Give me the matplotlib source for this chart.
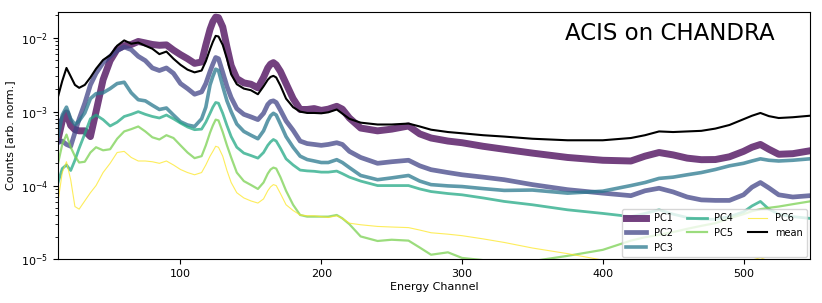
import numpy as np
import matplotlib
matplotlib.use('Agg')
import matplotlib.pyplot as plt

# Energy channels at which the spectra were read
channels = [13, 16, 19, 22, 25, 28, 32, 36, 40, 45, 50, 55, 60, 65, 70, 75, 80, 85, 90, 95,
            100, 105, 110,
            115, 118, 121, 123, 125, 127, 130, 133, 136, 140, 145, 150, 155, 159, 162, 164,
            166, 168, 171, 175,
            180, 185, 190, 195, 200, 205, 211, 215, 220, 228, 240, 250, 262, 270, 278, 290,
            300, 315, 330, 350, 375, 400, 420, 430, 440, 450, 460, 470, 480, 490, 500, 506,
            512, 518, 525, 535, 547]

mean_spec = [1.6e-3, 2.6e-3, 3.9e-3, 3.0e-3, 2.3e-3, 2.1e-3, 2.3e-3, 2.9e-3, 3.8e-3, 5.0e-3,
             5.8e-3, 7.8e-3, 9.2e-3, 8.3e-3, 8.6e-3, 7.8e-3, 7.1e-3, 6.0e-3, 6.5e-3, 5.2e-3,
             4.3e-3, 3.7e-3, 3.4e-3,
             3.6e-3, 4.8e-3, 7.0e-3, 8.8e-3, 1.06e-2, 1.04e-2, 8.0e-3, 5.2e-3, 3.2e-3, 2.35e-3,
             2.05e-3, 1.95e-3, 1.72e-3, 2.2e-3, 2.7e-3, 2.95e-3, 3.05e-3, 2.9e-3, 2.25e-3, 1.5e-3,
             1.15e-3, 1.0e-3, 9.6e-4, 9.6e-4, 9.5e-4, 9.8e-4, 1.07e-3, 9.4e-4, 8.0e-4, 7.1e-4,
             6.7e-4, 6.7e-4, 6.9e-4, 6.3e-4, 5.7e-4, 5.3e-4, 5.1e-4, 4.8e-4, 4.6e-4, 4.3e-4,
             4.1e-4, 4.1e-4, 4.4e-4, 4.8e-4, 5.4e-4, 5.3e-4, 5.4e-4, 5.5e-4, 5.9e-4, 6.6e-4,
             7.9e-4, 8.8e-4, 9.6e-4, 8.7e-4, 8.2e-4, 8.4e-4, 8.8e-4]

pc1 = [4.2e-4, 7.5e-4, 9.6e-4, 6.5e-4, 5.7e-4, 5.5e-4, 5.5e-4, 4.6e-4, 1.0e-3, 2.7e-3,
       4.9e-3, 7.0e-3, 7.8e-3, 8.1e-3, 8.9e-3, 8.5e-3, 8.1e-3, 7.9e-3, 8.0e-3, 6.8e-3,
       5.9e-3, 5.2e-3, 4.5e-3,
       4.7e-3, 8.0e-3, 1.3e-2, 1.65e-2, 1.9e-2, 1.87e-2, 1.4e-2, 7.5e-3, 4.2e-3, 2.8e-3,
       2.45e-3, 2.35e-3, 2.1e-3, 2.9e-3, 3.9e-3, 4.4e-3, 4.6e-3, 4.3e-3, 3.5e-3, 2.4e-3,
       1.5e-3, 1.07e-3, 1.07e-3, 1.1e-3, 1.04e-3, 1.08e-3, 1.18e-3, 1.08e-3, 8.2e-4, 6.0e-4,
       5.5e-4, 5.8e-4, 6.4e-4, 5.0e-4, 4.4e-4, 4.0e-4, 3.8e-4, 3.4e-4, 3.1e-4, 2.75e-4,
       2.4e-4, 2.2e-4, 2.15e-4, 2.5e-4, 2.8e-4, 2.6e-4, 2.35e-4, 2.24e-4, 2.25e-4, 2.45e-4,
       2.9e-4, 3.3e-4, 3.6e-4, 3.1e-4, 2.65e-4, 2.7e-4, 2.95e-4]

pc2 = [3.8e-4, 4.0e-4, 3.6e-4, 3.4e-4, 5.2e-4, 8.0e-4, 1.3e-3, 2.3e-3, 3.3e-3, 4.6e-3,
       5.6e-3, 6.7e-3, 7.5e-3, 6.9e-3, 5.6e-3, 4.9e-3, 3.9e-3, 3.6e-3, 3.9e-3, 3.3e-3,
       2.4e-3, 2.05e-3, 1.72e-3,
       1.85e-3, 2.4e-3, 3.5e-3, 4.4e-3, 5.4e-3, 5.2e-3, 3.4e-3, 2.2e-3, 1.55e-3, 1.1e-3,
       9.2e-4, 8.5e-4, 7.8e-4, 9.5e-4, 1.25e-3, 1.37e-3, 1.4e-3, 1.33e-3, 1.05e-3, 7.5e-4,
       5.6e-4, 4.0e-4, 3.7e-4, 3.6e-4, 3.5e-4, 3.6e-4, 3.8e-4, 3.6e-4, 2.9e-4, 2.4e-4,
       2.0e-4, 2.1e-4, 2.2e-4, 1.85e-4, 1.64e-4, 1.5e-4, 1.4e-4, 1.3e-4, 1.2e-4, 1.03e-4,
       8.8e-5, 7.9e-5, 7.3e-5, 8.5e-5, 9.2e-5, 8.2e-5, 7.0e-5, 6.4e-5, 6.3e-5, 6.3e-5,
       7.5e-5, 9.5e-5, 1.1e-4, 9.3e-5, 7.5e-5, 7.0e-5, 7.3e-5]

pc3 = [4.6e-4, 9.0e-4, 1.15e-3, 8.0e-4, 6.7e-4, 7.5e-4, 9.6e-4, 1.5e-3, 1.75e-3, 1.8e-3,
       2.05e-3, 2.4e-3, 2.5e-3, 1.8e-3, 1.45e-3, 1.4e-3, 1.22e-3, 1.07e-3, 1.12e-3, 9.0e-4,
       7.3e-4, 6.6e-4, 6.3e-4,
       8.0e-4, 1.15e-3, 2.3e-3, 3.0e-3, 3.75e-3, 3.6e-3, 2.2e-3, 1.4e-3, 1.0e-3, 6.8e-4,
       5.4e-4, 4.8e-4, 4.3e-4, 5.5e-4, 7.5e-4, 8.8e-4, 9.5e-4, 9.0e-4, 6.8e-4, 4.6e-4,
       3.3e-4, 2.5e-4, 2.25e-4, 2.15e-4, 2.05e-4, 2.05e-4, 2.24e-4, 2.05e-4, 1.75e-4, 1.37e-4,
       1.2e-4, 1.27e-4, 1.37e-4, 1.15e-4, 1.03e-4, 9.9e-5, 9.7e-5, 9.1e-5, 8.6e-5, 8.7e-5,
       7.9e-5, 8.4e-5, 1.0e-4, 1.1e-4, 1.25e-4, 1.3e-4, 1.4e-4, 1.5e-4, 1.65e-4, 1.85e-4,
       2.0e-4, 2.15e-4, 2.3e-4, 2.2e-4, 2.15e-4, 2.2e-4, 2.3e-4]

pc4 = [1.1e-4, 1.7e-4, 1.9e-4, 1.6e-4, 2.2e-4, 3.2e-4, 5.0e-4, 8.0e-4, 9.0e-4, 7.8e-4,
       6.4e-4, 7.2e-4, 8.6e-4, 9.2e-4, 1.0e-3, 9.2e-4, 8.6e-4, 8.2e-4, 9.0e-4, 8.0e-4,
       7.0e-4, 6.2e-4, 5.7e-4,
       5.8e-4, 7.2e-4, 9.5e-4, 1.15e-3, 1.33e-3, 1.3e-3, 9.5e-4, 6.5e-4, 4.6e-4, 3.3e-4,
       2.75e-4, 2.55e-4, 2.35e-4, 2.8e-4, 3.5e-4, 3.9e-4, 4.2e-4, 4.0e-4, 3.2e-4, 2.3e-4,
       1.9e-4, 1.62e-4, 1.58e-4, 1.56e-4, 1.52e-4, 1.52e-4, 1.57e-4, 1.45e-4, 1.3e-4, 1.15e-4,
       1.0e-4, 1.0e-4, 1.0e-4, 9.0e-5, 8.3e-5, 7.8e-5, 7.5e-5, 6.8e-5, 6.1e-5, 5.5e-5,
       4.7e-5, 4.2e-5, 3.8e-5, 4.2e-5, 4.7e-5, 4.1e-5, 3.7e-5, 3.5e-5, 3.5e-5, 3.8e-5,
       4.4e-5, 5.3e-5, 6.1e-5, 4.8e-5, 4.1e-5, 3.8e-5, 3.6e-5]

pc5 = [2.0e-4, 3.6e-4, 4.9e-4, 3.3e-4, 2.5e-4, 2.05e-4, 2.1e-4, 2.8e-4, 3.3e-4, 3.0e-4,
       3.1e-4, 4.3e-4, 5.4e-4, 5.8e-4, 6.3e-4, 5.4e-4, 4.5e-4, 4.2e-4, 4.8e-4, 4.4e-4,
       3.5e-4, 2.8e-4, 2.35e-4,
       2.5e-4, 3.5e-4, 5.2e-4, 6.5e-4, 7.8e-4, 7.6e-4, 5.3e-4, 3.5e-4, 2.4e-4, 1.5e-4,
       1.15e-4, 1.02e-4, 9.0e-5, 1.1e-4, 1.45e-4, 1.65e-4, 1.75e-4, 1.7e-4, 1.3e-4, 8.5e-5,
       5.5e-5, 4.0e-5, 3.8e-5, 3.8e-5, 3.8e-5, 3.8e-5, 4.0e-5, 3.6e-5, 3.0e-5, 2.05e-5,
       1.78e-5, 1.85e-5, 1.8e-5, 1.45e-5, 1.16e-5, 1.25e-5, 1.05e-5, 9.8e-6, 9.5e-6, 9.5e-6,
       1.12e-5, 1.35e-5, 1.8e-5, 2.0e-5, 2.15e-5, 2.35e-5, 2.6e-5, 2.85e-5, 3.1e-5, 3.6e-5,
       4.1e-5, 4.5e-5, 4.8e-5, 5.0e-5, 5.2e-5, 5.6e-5, 6.1e-5]

pc6 = [6.1e-5, 1.5e-4, 2.1e-4, 1.2e-4, 5.2e-5, 4.8e-5, 6.2e-5, 8.0e-5, 1.0e-4, 1.5e-4,
       2.0e-4, 2.8e-4, 2.9e-4, 2.4e-4, 2.15e-4, 2.15e-4, 2.1e-4, 2.0e-4, 2.15e-4, 1.9e-4,
       1.65e-4, 1.5e-4, 1.4e-4,
       1.5e-4, 1.9e-4, 2.5e-4, 2.9e-4, 3.4e-4, 3.3e-4, 2.5e-4, 1.6e-4, 1.1e-4, 8.0e-5,
       6.8e-5, 6.2e-5, 5.8e-5, 6.6e-5, 8.5e-5, 9.6e-5, 1.03e-4, 1.0e-4, 7.8e-5, 5.5e-5,
       4.6e-5, 4.0e-5, 3.9e-5, 3.9e-5, 3.8e-5, 3.7e-5, 3.9e-5, 3.6e-5, 3.1e-5, 2.95e-5,
       2.8e-5, 2.75e-5, 2.7e-5, 2.5e-5, 2.3e-5, 2.2e-5, 2.1e-5, 1.9e-5, 1.7e-5, 1.43e-5,
       1.2e-5, 9.8e-6, 9.0e-6, 9.0e-6, 9.3e-6, 8.8e-6, 8.5e-6, 8.3e-6, 8.3e-6, 8.5e-6,
       9.0e-6, 9.8e-6, 1.06e-5, 9.5e-6, 8.8e-6, 8.8e-6, 9.0e-6]

components = [pc1, pc2, pc3, pc4, pc5, pc6]
labels = ['PC1', 'PC2', 'PC3', 'PC4', 'PC5', 'PC6']
widths = [5.0, 3.4, 2.6, 2.0, 1.6, 0.8]

colors = plt.cm.viridis(np.linspace(0, 1, len(components)))

fig = plt.figure(figsize=(8.22, 3.03), dpi=100)
ax = fig.add_axes([0.0706, 0.1436, 0.9144, 0.8178])

for spec, lab, lw, col in zip(components, labels, widths, colors):
    ax.plot(channels, spec, color=col, lw=lw, alpha=0.75, label=lab)
ax.plot(channels, mean_spec, color='black', lw=1.5, label='mean')

ax.set_yscale('log')
ax.set_xlim(13, 547)
ax.set_ylim(1e-5, 2.25e-2)
ax.tick_params(labelsize=8)
ax.set_xlabel('Energy Channel', fontsize=8, labelpad=2)
ax.set_ylabel('Counts [arb. norm.]', fontsize=8)

ax.text(0.814, 0.914, 'ACIS on CHANDRA', transform=ax.transAxes,
        fontsize=16.5, ha='center', va='center')

ax.legend(loc='lower right', ncol=3, fontsize=7, borderaxespad=0.3,
          columnspacing=1.5)

plt.savefig('out.png', dpi=100)
plt.close()
